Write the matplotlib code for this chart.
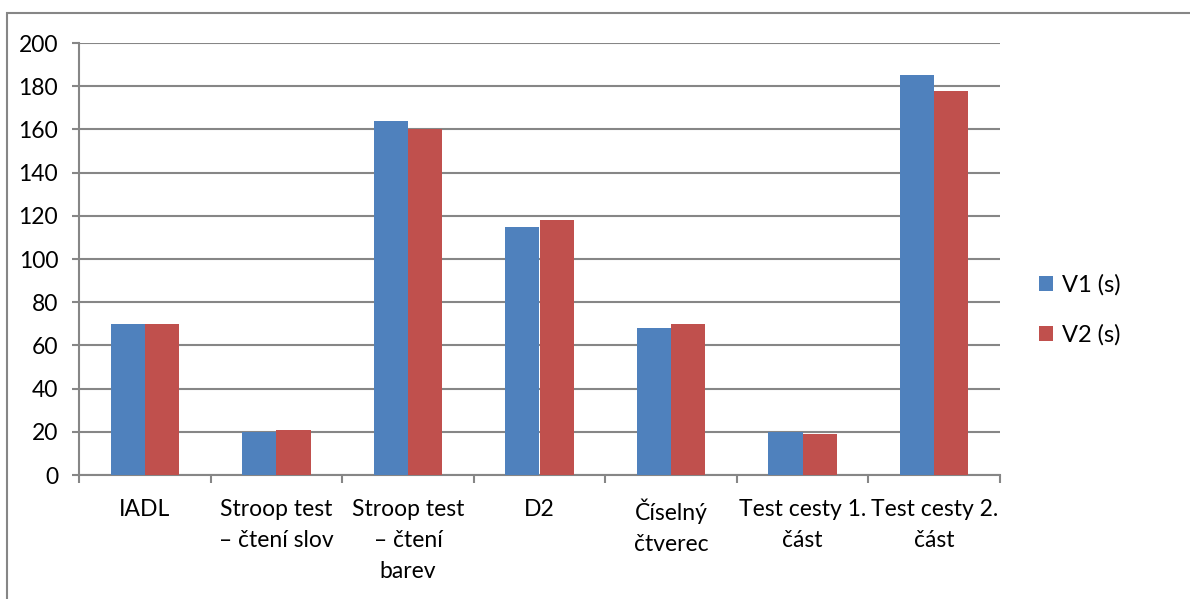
import numpy as np
import matplotlib.pyplot as plt
from matplotlib.patches import Rectangle

categories = ['IADL', 'Stroop test\n– čtení slov', 'Stroop test\n– čtení\nbarev', 'D2',
              'Číselný\nčtverec', 'Test cesty 1.\nčást', 'Test cesty 2.\nčást']
v1 = [70, 20, 164, 115, 68, 20, 185]
v2 = [70, 21, 160, 118, 70, 19, 178]
series_names = ['V1 (s)', 'V2 (s)']
yticks = [0, 20, 40, 60, 80, 100, 120, 140, 160, 180, 200]

blue = '#4F81BD'
red = '#C0504D'
grey = '#868686'

plt.rcParams['font.family'] = ['Lato', 'DejaVu Sans']
fs = 16.5

fig = plt.figure(figsize=(11.9, 5.99), dpi=100)
# outer chart frame (right and bottom edges fall outside the image)
fig.patches.append(Rectangle((7/1190, -0.1), 1.2, (599-13)/599 + 0.1, transform=fig.transFigure,
                             fill=False, edgecolor=grey, linewidth=1.5))

ax = fig.add_axes([79/1190, 124/599, 921/1190, 432/599])
x = np.arange(len(categories))
w = 0.26
ax.bar(x - w/2, v1, w, color=blue, label=series_names[0], zorder=3)
ax.bar(x + w/2, v2, w, color=red, label=series_names[1], zorder=3)

ax.set_xlim(-0.5, len(categories) - 0.5)
ax.set_ylim(0, 200)
ax.set_yticks(yticks)
ax.yaxis.grid(True, color=grey, linewidth=1.5, zorder=0)
ax.set_axisbelow(True)

ax.set_xticks(np.arange(len(categories) + 1) - 0.5)
ax.set_xticklabels([])
ax.set_xticks(x, minor=True)
ax.set_xticklabels(categories, minor=True, fontsize=fs, linespacing=1.6, va='top')
ax.tick_params(axis='x', which='minor', length=0, pad=17)
ax.tick_params(axis='x', which='major', length=6, width=1.5, color=grey)
ax.tick_params(axis='y', length=5, width=1.5, color=grey, labelsize=fs, pad=10)

for s in ['top', 'right']:
    ax.spines[s].set_visible(False)
for s in ['left', 'bottom']:
    ax.spines[s].set_color(grey)
    ax.spines[s].set_linewidth(1.5)

fig.legend(*ax.get_legend_handles_labels(), loc='center left',
           bbox_to_anchor=(1018/1190, (599-310)/599), frameon=False, fontsize=fs + 0.5,
           handlelength=0.6, handleheight=0.6, handletextpad=0.35, labelspacing=1.2)

fig.savefig('out.png', dpi=100)
